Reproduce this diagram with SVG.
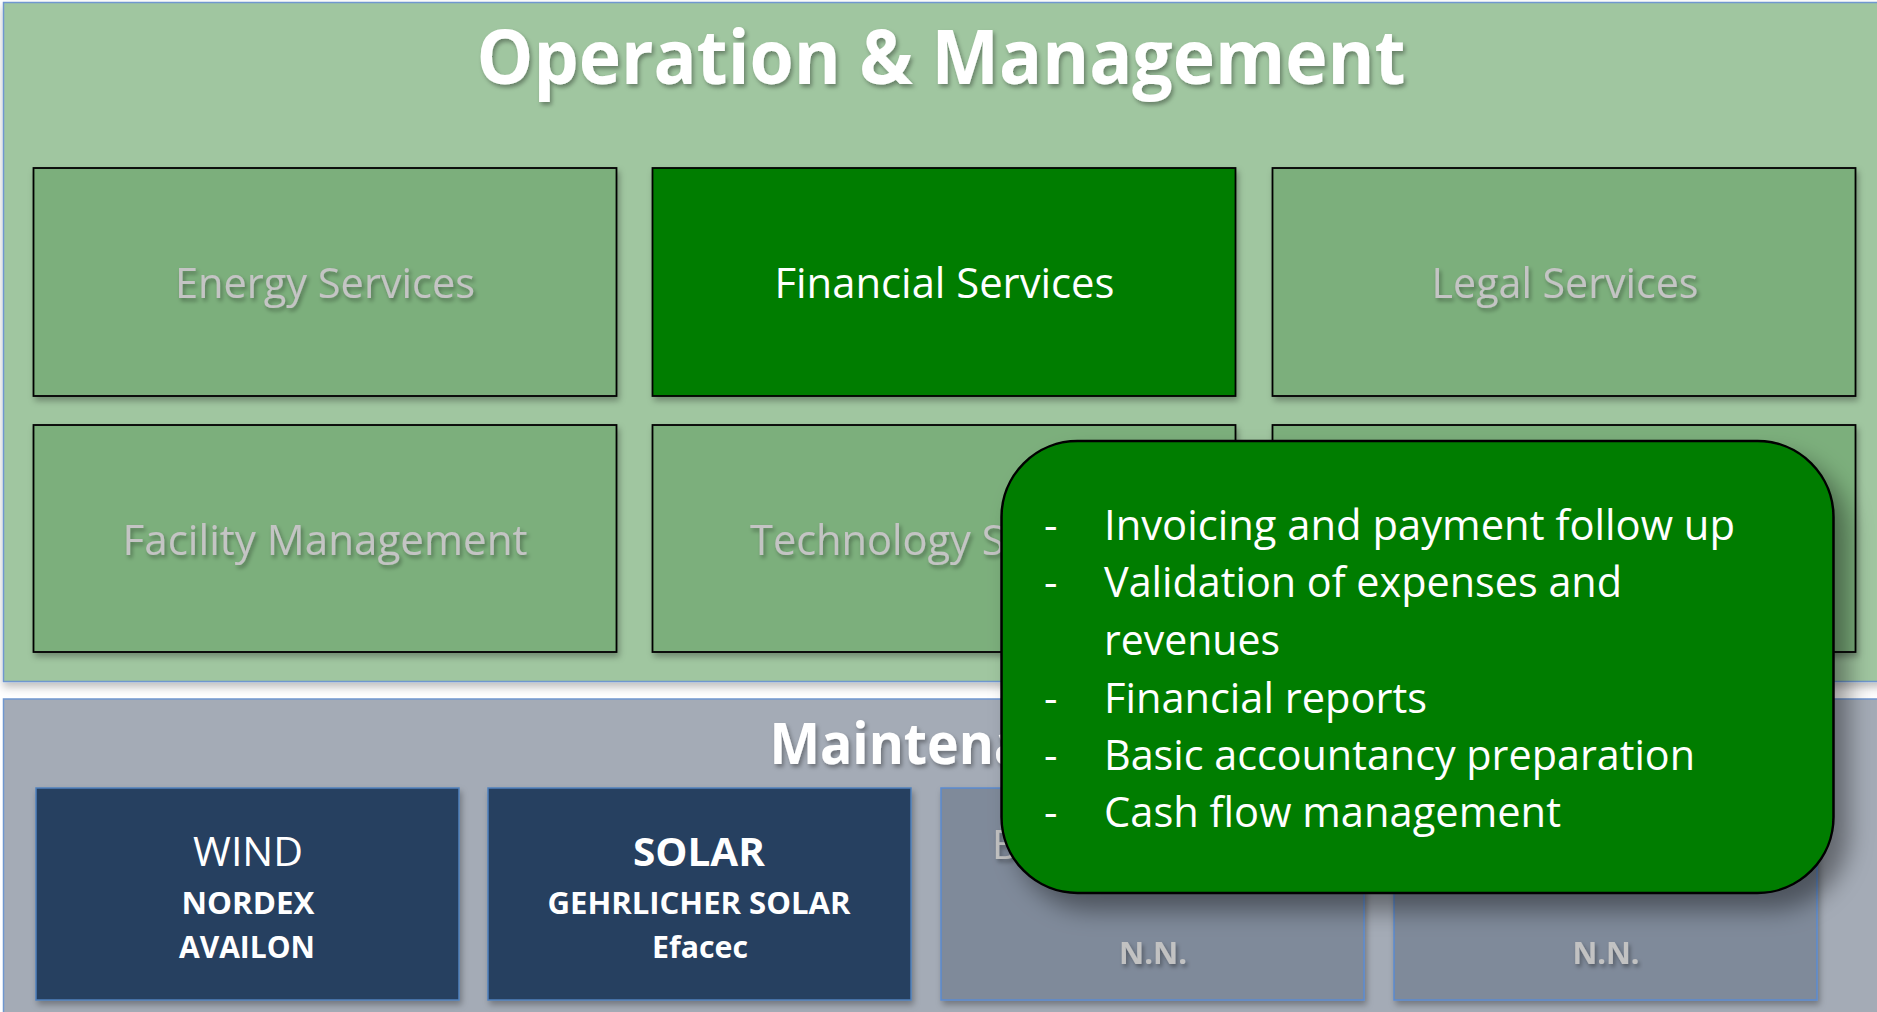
<svg xmlns="http://www.w3.org/2000/svg" width="1877" height="1012" viewBox="0 0 1877 1012">
  <defs>
    <filter id="panelShadow" x="-5%" y="-5%" width="110%" height="115%">
      <feDropShadow dx="0" dy="5" stdDeviation="4" flood-color="#000" flood-opacity="0.25"/>
    </filter>
    <filter id="boxShadow" x="-5%" y="-5%" width="110%" height="115%">
      <feDropShadow dx="2" dy="4" stdDeviation="3" flood-color="#000" flood-opacity="0.3"/>
    </filter>
    <filter id="calloutShadow" x="-10%" y="-10%" width="125%" height="130%">
      <feDropShadow dx="14" dy="16" stdDeviation="12" flood-color="#000" flood-opacity="0.4"/>
    </filter>
    <filter id="textShadow" x="-5%" y="-20%" width="110%" height="150%">
      <feDropShadow dx="2" dy="3" stdDeviation="2" flood-color="#000" flood-opacity="0.35"/>
    </filter>
  </defs>
  <style>
    text { font-family: "Open Sans", "Liberation Sans", sans-serif; }
    .panel-top { fill: #A0C6A0; stroke: #6F97CF; stroke-width: 1.5; }
    .panel-bot { fill: #A4ABB6; stroke: #6F97CF; stroke-width: 1.5; }
    .svc { fill: #7BAF7B; stroke: #000; stroke-width: 1.8; }
    .svc-on { fill: #007D00; stroke: #000; stroke-width: 1.8; }
    .svc-txt { fill: #C4C4C4; font-size: 42px; text-anchor: middle; }
    .svc-txt-on { fill: #FFFFFF; font-size: 42px; text-anchor: middle; }
    .title { fill: #FFFFFF; font-weight: bold; text-anchor: middle; }
    .mbox { fill: #253F60; stroke: #4F81BD; stroke-width: 1.5; }
    .mbox-off { fill: #7F8A9A; stroke: #5B8AD0; stroke-width: 1.5; }
    .m-head { fill: #FFFFFF; font-size: 40px; text-anchor: middle; }
    .m-sub { fill: #FFFFFF; font-size: 31px; font-weight: bold; text-anchor: middle; }
    .m-off { fill: #C2C2C2; }
    .callout { fill: #007D00; stroke: #000; stroke-width: 2.5; }
    .ct { fill: #FFFFFF; font-size: 42px; }
  </style>

  <rect x="0" y="0" width="1877" height="1012" fill="#FFFFFF"/>

  <!-- Operation & Management panel -->
  <g id="operation-management">
    <rect class="panel-top" x="3.5" y="2.5" width="1885" height="679" filter="url(#panelShadow)"/>
    <text class="title" x="941" y="84" font-size="76" textLength="929" lengthAdjust="spacingAndGlyphs" filter="url(#textShadow)">Operation &amp; Management</text>
  </g>

  <g id="energy-services">
    <rect class="svc" x="33.5" y="168" width="583" height="228" filter="url(#boxShadow)"/>
    <text class="svc-txt" x="325" y="298" textLength="300" lengthAdjust="spacingAndGlyphs" filter="url(#textShadow)">Energy Services</text>
  </g>
  <g id="financial-services">
    <rect class="svc-on" x="652.5" y="168" width="583" height="228" filter="url(#boxShadow)"/>
    <text class="svc-txt-on" x="944.5" y="298" textLength="340" lengthAdjust="spacingAndGlyphs">Financial Services</text>
  </g>
  <g id="legal-services">
    <rect class="svc" x="1272.5" y="168" width="583" height="228" filter="url(#boxShadow)"/>
    <text class="svc-txt" x="1565" y="298" textLength="267" lengthAdjust="spacingAndGlyphs" filter="url(#textShadow)">Legal Services</text>
  </g>
  <g id="facility-management">
    <rect class="svc" x="33.5" y="425" width="583" height="227" filter="url(#boxShadow)"/>
    <text class="svc-txt" x="325" y="555" textLength="405" lengthAdjust="spacingAndGlyphs" filter="url(#textShadow)">Facility Management</text>
  </g>
  <g id="technology-services">
    <rect class="svc" x="652.5" y="425" width="583" height="227" filter="url(#boxShadow)"/>
    <text class="svc-txt" x="944.5" y="555" textLength="389" lengthAdjust="spacingAndGlyphs" filter="url(#textShadow)">Technology Services</text>
  </g>
  <g id="service-6">
    <rect class="svc" x="1272.5" y="425" width="583" height="227" filter="url(#boxShadow)"/>
  </g>

  <!-- Maintenance panel -->
  <g id="maintenance">
    <rect class="panel-bot" x="3.5" y="699" width="1885" height="320"/>
    <text class="title" x="945" y="764" font-size="57" textLength="351" lengthAdjust="spacingAndGlyphs" filter="url(#textShadow)">Maintenance</text>
  </g>

  <g id="wind">
    <rect class="mbox" x="36" y="788" width="423" height="212" filter="url(#boxShadow)"/>
    <text class="m-head" x="248" y="866" textLength="110" lengthAdjust="spacingAndGlyphs">WIND</text>
    <text class="m-sub" x="248" y="914" textLength="133" lengthAdjust="spacingAndGlyphs">NORDEX</text>
    <text class="m-sub" x="247" y="958" textLength="136" lengthAdjust="spacingAndGlyphs">AVAILON</text>
  </g>
  <g id="solar">
    <rect class="mbox" x="488" y="788" width="423" height="212" filter="url(#boxShadow)"/>
    <text class="m-head" x="699" y="866" font-weight="bold" textLength="132" lengthAdjust="spacingAndGlyphs">SOLAR</text>
    <text class="m-sub" x="699" y="914" textLength="303" lengthAdjust="spacingAndGlyphs">GEHRLICHER SOLAR</text>
    <text class="m-sub" x="700" y="958" textLength="96" lengthAdjust="spacingAndGlyphs">Efacec</text>
  </g>
  <g id="maint-3">
    <rect class="mbox-off" x="941" y="788" width="423" height="212" filter="url(#boxShadow)"/>
    <text class="m-off" x="992" y="859" font-size="40" filter="url(#textShadow)">B</text>
    <text class="m-sub m-off" x="1153" y="964" textLength="68" lengthAdjust="spacingAndGlyphs" filter="url(#textShadow)">N.N.</text>
  </g>
  <g id="maint-4">
    <rect class="mbox-off" x="1394" y="788" width="423" height="212" filter="url(#boxShadow)"/>
    <text class="m-sub m-off" x="1606" y="964" textLength="67" lengthAdjust="spacingAndGlyphs" filter="url(#textShadow)">N.N.</text>
  </g>

  <!-- Callout -->
  <g id="financial-callout">
    <rect class="callout" x="1001.5" y="441" width="832" height="452" rx="76" ry="76" filter="url(#calloutShadow)"/>
    <text class="ct" x="1044" y="540">-</text>
    <text class="ct" x="1104" y="540" textLength="631" lengthAdjust="spacingAndGlyphs">Invoicing and payment follow up</text>
    <text class="ct" x="1044" y="597">-</text>
    <text class="ct" x="1104" y="597" textLength="518" lengthAdjust="spacingAndGlyphs">Validation of expenses and</text>
    <text class="ct" x="1104" y="655" textLength="176" lengthAdjust="spacingAndGlyphs">revenues</text>
    <text class="ct" x="1044" y="713">-</text>
    <text class="ct" x="1104" y="713" textLength="323" lengthAdjust="spacingAndGlyphs">Financial reports</text>
    <text class="ct" x="1044" y="770">-</text>
    <text class="ct" x="1104" y="770" textLength="591" lengthAdjust="spacingAndGlyphs">Basic accountancy preparation</text>
    <text class="ct" x="1044" y="827">-</text>
    <text class="ct" x="1104" y="827" textLength="457" lengthAdjust="spacingAndGlyphs">Cash flow management</text>
  </g>

  <g id="connectors"/>
</svg>
